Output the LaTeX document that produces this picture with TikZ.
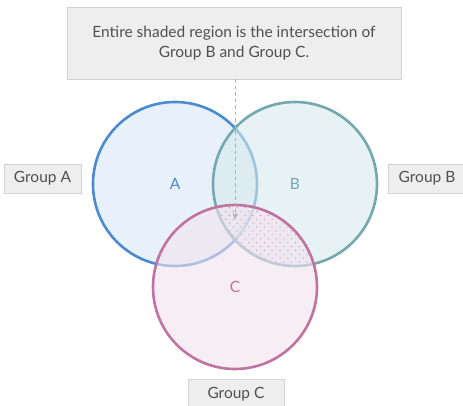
\documentclass[tikz,border=0pt]{standalone}
\usepackage{fontspec}
\setmainfont{Lato}
\usetikzlibrary{arrows,patterns.meta}

\definecolor{boxgray}{HTML}{EEEEEE}
\definecolor{boxline}{HTML}{D2D2D2}
\definecolor{textgray}{HTML}{505050}
\definecolor{blueA}{HTML}{4A8BD0}
\definecolor{fillA}{RGB}{217,232,248}
\definecolor{tealB}{HTML}{72A8AE}
\definecolor{fillB}{RGB}{213,233,235}
\definecolor{pinkC}{HTML}{C0739F}
\definecolor{fillC}{RGB}{242,227,238}
\definecolor{dotpink}{HTML}{D98FB6}

\begin{document}
\begin{tikzpicture}[x=1pt,y=-1pt,>=stealth',font=\fontsize{15.5}{20}\selectfont,
  group node/.style={fill=boxgray,draw=boxline,line width=0.6pt,text=textgray,inner sep=0pt,minimum height=29pt},
  set node/.style={circle,minimum size=164pt,line width=2.6pt,fill opacity=0.6,text opacity=1},
  note node/.style={fill=boxgray,draw=boxline,line width=0.8pt,text=textgray,align=center,minimum width=334pt,minimum height=72pt},
  pointer/.style={->,draw=gray!60,line width=1pt,dash pattern=on 3.5pt off 3pt}]

  \useasboundingbox (0,0) rectangle (463,406);

  \node[set node,draw=blueA,fill=fillA,text=blueA] (A) at (175,184) {A};
  \node[set node,draw=tealB,fill=fillB,text=tealB] (B) at (295,184) {B};
  \node[set node,draw=pinkC,fill=fillC,text=pinkC] (C) at (235,287) {C};

  % shaded part: B and C
  \begin{scope}
    \clip (B.center) circle (81pt);
    \fill[pattern={Dots[radius=0.7pt,distance=5.5pt,angle=45]},pattern color=dotpink] (C.center) circle (81pt);
  \end{scope}

  \node[note node] (note) at (234,43) {Entire shaded region is the intersection of\\Group B and Group C.};
  \node[group node,minimum width=77pt] (gA) at (42.5,178.5) {Group A};
  \node[group node,minimum width=77pt] (gB) at (427,178.5) {Group B};
  \node[group node,minimum width=96pt] (gC) at (236,394) {Group C};

  \coordinate (hit) at (235,219);
  \draw[pointer] (note.south -| hit) -- (hit);
\end{tikzpicture}
\end{document}
